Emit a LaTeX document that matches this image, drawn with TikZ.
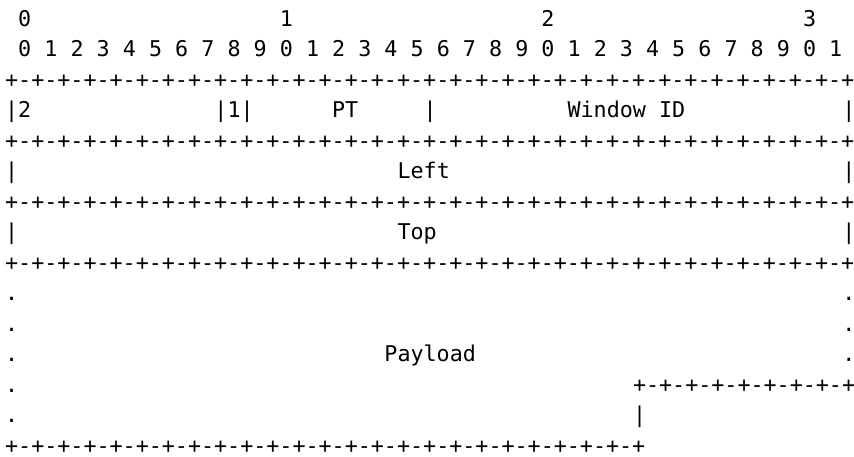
\documentclass[tikz,border=0pt]{standalone}
\usepackage{fontspec}
\newfontfamily\pktfont{DejaVu Sans Mono}
\newcommand{\plusrule}[1]{\foreach \k in {1,...,#1}{+-}+}
\tikzset{
  cell/.style={anchor=base west,inner sep=0pt,outer sep=0pt,
    font=\pktfont\fontsize{21.7pt}{26pt}\selectfont}
}
\begin{document}
\begin{tikzpicture}[x=13.08pt,y=-30.5pt]
\useasboundingbox (-0.8945,0.1475) rectangle (64.396,15.131);
% bit numbers
\foreach \t/\c in {0/1,1/21,2/41,3/61}
  \node[cell] (tens\t) at (\c-0.5,1) {\t};
\foreach \b in {0,...,31}{
  \pgfmathtruncatemacro{\d}{mod(\b,10)}
  \node[cell] (bit\b) at (2*\b+0.5,2) {\d};
}
% full width borders
\foreach \r in {3,5,7,9}
  \node[cell] (rule\r) at (-0.5,\r) {\plusrule{32}};
% first word
\node[cell] (ver) at (-0.5,4) {|2};
\node[cell] (mark) at (15.5,4) {|1|};
\node[cell] (pt) at (24.5,4) {PT};
\node[cell] (ptbar) at (31.5,4) {|};
\node[cell] (wid) at (42.5,4) {Window ID};
\node[cell] (widbar) at (63.5,4) {|};
% left and top
\node[cell] (leftbar) at (-0.5,6) {|};
\node[cell] (left) at (29.5,6) {Left};
\node[cell] (leftend) at (63.5,6) {|};
\node[cell] (topbar) at (-0.5,8) {|};
\node[cell] (top) at (29.5,8) {Top};
\node[cell] (topend) at (63.5,8) {|};
% payload
\foreach \r in {10,...,14}
  \node[cell] (dotl\r) at (-0.5,\r) {.};
\foreach \r in {10,11,12}
  \node[cell] (dotr\r) at (63.5,\r) {.};
\node[cell] (payload) at (28.5,12) {Payload};
\node[cell] (tailrule) at (47.5,13) {\plusrule{8}};
\node[cell] (tailbar) at (47.5,14) {|};
\node[cell] (endrule) at (-0.5,15) {\plusrule{24}};
\end{tikzpicture}
\end{document}
